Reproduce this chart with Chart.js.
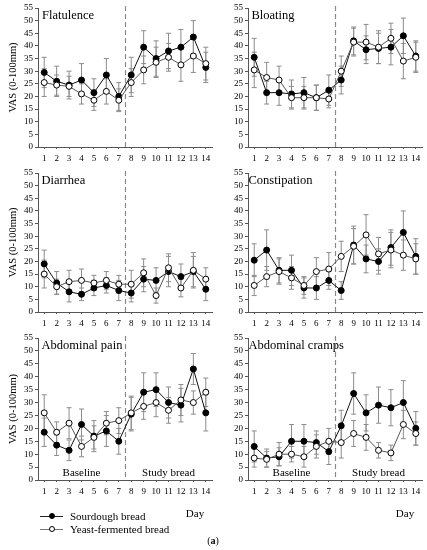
<!DOCTYPE html>
<html><head><meta charset="utf-8">
<script src="https://cdn.jsdelivr.net/npm/chart.js@4/dist/chart.umd.min.js"></script>
<style>
html,body{margin:0;padding:0;background:#fff;}
body{width:427px;height:550px;position:relative;overflow:hidden;font-family:'Liberation Serif','Times New Roman',serif;color:#000;}
.panel{position:absolute;}
.panel canvas{display:block;}
.ann{position:absolute;white-space:nowrap;line-height:1;}
.leg{position:absolute;left:40px;font-size:11px;line-height:1;white-space:nowrap;}
.leg .ln{position:absolute;left:0;top:50%;width:23px;height:0;border-top:1px solid #222;}
.leg .mk{position:absolute;left:8.5px;top:50%;width:4px;height:4px;border-radius:50%;border:1px solid #000;transform:translateY(-50%);}
.leg .tx{position:absolute;left:30px;top:0;transform:translateY(-50%);}
</style></head><body>
<script>
// ---------- data ----------
const days = ['1','2','3','4','5','6','7','8','9','10','11','12','13','14'];
const yTicksMax = 55, yTicksStep = 5;
const studyStartIndex = 7; // day 8 starts study-bread phase
const seriesNames = ['Sourdough bread', 'Yeast-fermented bread'];
const phaseNames = ['Baseline', 'Study bread'];

const flatulenceSour    = [29.5, 26, 24.5, 26.5, 21.5, 28.5, 20, 28.5, 39.5, 35, 38, 39.5, 43.5, 31.5];
const flatulenceSourErr = [6, 6, 5.5, 6.5, 5.5, 6.5, 5.5, 7, 6.5, 7, 7, 7, 6.5, 6];
const flatulenceYeast    = [25.5, 24.5, 24, 21, 18.5, 22, 18.5, 25.5, 30.5, 33.5, 35.5, 32.5, 36, 33];
const flatulenceYeastErr = [5.5, 4, 4, 4, 4, 5, 4.5, 5.5, 5.5, 6, 5.5, 6.5, 6.5, 6.5];

const bloatingSour    = [35.5, 21.5, 21.5, 21, 21.5, 19.5, 22.5, 26.5, 42, 38.5, 39, 39.5, 44, 36];
const bloatingSourErr = [7.5, 4.5, 5, 5.5, 6, 5, 6, 5.5, 5.5, 5.5, 6, 7, 7, 6];
const bloatingYeast    = [30.5, 27.5, 26.5, 19.5, 19.5, 19.5, 19, 30, 41.5, 41.5, 39.5, 43, 34, 35.5];
const bloatingYeastErr = [7, 6, 5.5, 4.5, 4.5, 5, 3.5, 6, 5.5, 7, 6.5, 6, 7, 6];

const diarrheaSour    = [19, 11.5, 8, 7, 9.5, 10.5, 8.5, 7.5, 13, 12.5, 16, 14, 16, 9];
const diarrheaSourErr = [5.5, 4.5, 4, 2.5, 3, 3, 4, 3.5, 5, 5, 6, 5, 6, 4.5];
const diarrheaYeast    = [15, 10, 12, 12.5, 11.5, 12.5, 11, 11, 15.5, 6.5, 17.5, 9.5, 16.5, 13];
const diarrheaYeastErr = [5.5, 3, 4.5, 4.5, 3, 3.5, 3.5, 5.5, 5.5, 3, 5.5, 3.5, 7, 4.5];

const constipationSour    = [20.5, 24.5, 16.5, 16.5, 9.5, 9.5, 12.5, 8.5, 26.5, 21, 20, 25.5, 31.5, 22];
const constipationSourErr = [6.5, 8, 5, 6, 4, 4.5, 3.5, 3.5, 7.5, 5.5, 5, 7, 8.5, 7];
const constipationYeast    = [10.5, 14, 16, 13.5, 10.5, 16, 17, 22, 26, 30.5, 23, 24.5, 22.5, 21];
const constipationYeastErr = [4, 4, 5, 4.5, 3.5, 5.5, 6.5, 6, 7, 8, 6.5, 7, 6, 6];

const painSour    = [18.5, 13.5, 11.5, 21.5, 17, 19, 15, 25.5, 34, 35, 30, 29, 43, 26];
const painSourErr = [5.5, 4, 4, 6, 6, 6, 5, 6.5, 7.5, 6.5, 6, 6.5, 6, 7];
const painYeast    = [26, 18.5, 22, 13, 16.5, 22, 23, 26, 28.5, 30, 27, 31, 30, 34];
const painYeastErr = [7, 4, 6, 4, 4.5, 4.5, 5, 6.5, 5, 5.5, 5, 6, 4.5, 5.5];

const crampsSour    = [13, 8.5, 9, 15, 15, 14.5, 11, 21, 33.5, 26, 29, 28, 30, 20];
const crampsSourErr = [6, 3.5, 3.5, 6.5, 6.5, 4.5, 5, 6, 8, 7, 7, 7, 8.5, 6.5];
const crampsYeast    = [8.5, 8, 10, 10, 9, 13, 15, 14.5, 18, 16.5, 11.5, 10.5, 21.5, 18];
const crampsYeastErr = [3.5, 3, 4.5, 3, 4, 4.5, 5, 6, 5, 5, 3, 3, 5.5, 4.5];

// ---------- layout ----------
const panels = [
  {title:'Flatulence', sour:flatulenceSour, sourErr:flatulenceSourErr, yeast:flatulenceYeast, yeastErr:flatulenceYeastErr, col:0, row:0, tdx:4},
  {title:'Bloating', sour:bloatingSour, sourErr:bloatingSourErr, yeast:bloatingYeast, yeastErr:bloatingYeastErr, col:1, row:0, tdx:3.5},
  {title:'Diarrhea', sour:diarrheaSour, sourErr:diarrheaSourErr, yeast:diarrheaYeast, yeastErr:diarrheaYeastErr, col:0, row:1, tdx:3.5},
  {title:'Constipation', sour:constipationSour, sourErr:constipationSourErr, yeast:constipationYeast, yeastErr:constipationYeastErr, col:1, row:1, tdx:0.5},
  {title:'Abdominal pain', sour:painSour, sourErr:painSourErr, yeast:painYeast, yeastErr:painYeastErr, col:0, row:2, tdx:3.5, phases:true},
  {title:'Abdominal cramps', sour:crampsSour, sourErr:crampsSourErr, yeast:crampsYeast, yeastErr:crampsYeastErr, col:1, row:2, tdx:0.5, phases:true}
];
const cols = [{left:0, width:217, yW:38}, {left:213, width:214, yW:35}];
const rows = [{top:8, bottom:147}, {top:173, bottom:312}, {top:338, bottom:480}];
const PADTOP = 8, XH = 20;

Chart.defaults.font.family = "'Liberation Serif','Times New Roman',serif";
Chart.defaults.color = '#000';

const decorPlugin = {
  id: 'decor',
  beforeDatasetsDraw(chart) {
    const {ctx, chartArea} = chart;
    const xs = chart.scales.x, ys = chart.scales.y;
    ctx.save();
    // dashed divider
    const dx = xs.getPixelForValue(studyStartIndex - 0.5);
    ctx.strokeStyle = '#8a8a8a';
    ctx.lineWidth = 1.2;
    ctx.setLineDash([5, 3]);
    ctx.beginPath();
    ctx.moveTo(Math.round(dx) + 0.5, chartArea.top - 2);
    ctx.lineTo(Math.round(dx) + 0.5, chartArea.bottom);
    ctx.stroke();
    ctx.setLineDash([]);
    // error bars
    ctx.strokeStyle = '#8c8c8c';
    ctx.lineWidth = 1;
    chart.data.datasets.forEach((ds, i) => {
      const meta = chart.getDatasetMeta(i);
      meta.data.forEach((pt, j) => {
        const v = ds.data[j], e = ds.errors[j];
        const yt = ys.getPixelForValue(v + e), yb = ys.getPixelForValue(v - e);
        const x = pt.x;
        ctx.beginPath();
        ctx.moveTo(x, yt); ctx.lineTo(x, yb);
        ctx.moveTo(x - 2.5, yt); ctx.lineTo(x + 2.5, yt);
        ctx.moveTo(x - 2.5, yb); ctx.lineTo(x + 2.5, yb);
        ctx.stroke();
      });
    });
    ctx.restore();
  }
};

function addAnn(parent, text, x, y, size, align) {
  const d = document.createElement('div');
  d.className = 'ann';
  d.textContent = text;
  d.style.fontSize = size + 'px';
  d.style.left = x + 'px';
  d.style.top = y + 'px';
  const tx = align === 'center' ? '-50%' : '0';
  d.style.transform = 'translate(' + tx + ',-50%)';
  parent.appendChild(d);
  return d;
}

panels.forEach((p) => {
  const c = cols[p.col], r = rows[p.row];
  const box = document.createElement('div');
  box.className = 'panel';
  const h = (r.bottom - r.top) + PADTOP + XH;
  box.style.left = c.left + 'px';
  box.style.top = (r.top - PADTOP) + 'px';
  box.style.width = c.width + 'px';
  box.style.height = h + 'px';
  const cv = document.createElement('canvas');
  box.appendChild(cv);
  document.body.appendChild(box);

  const chart = new Chart(cv, {
    type: 'line',
    data: {
      labels: days,
      datasets: [
        {label: seriesNames[1], data: p.yeast, errors: p.yeastErr, borderColor: '#555', borderWidth: 1,
         pointRadius: 3, pointBackgroundColor: '#fff', pointBorderColor: '#000', pointBorderWidth: 1, tension: 0},
        {label: seriesNames[0], data: p.sour, errors: p.sourErr, borderColor: '#111', borderWidth: 1,
         pointRadius: 3, pointBackgroundColor: '#000', pointBorderColor: '#000', pointBorderWidth: 1, tension: 0}
      ]
    },
    options: {
      responsive: true,
      maintainAspectRatio: false,
      animation: false,
      events: [],
      layout: {padding: {top: PADTOP, left: 0, right: 0, bottom: 0}},
      plugins: {legend: {display: false}, tooltip: {enabled: false}},
      scales: {
        x: {
          type: 'category', offset: true,
          grid: {display: true, drawOnChartArea: false, drawTicks: true, tickLength: 2, color: '#555', offset: false},
          border: {display: true, color: '#555', width: 1},
          ticks: {font: {size: 9}, padding: 4, maxRotation: 0, autoSkip: false, color: '#000'},
          afterFit: (s) => { s.height = XH; }
        },
        y: {
          min: 0, max: yTicksMax,
          grid: {display: true, drawOnChartArea: false, drawTicks: true, tickLength: 3, color: '#555'},
          border: {display: true, color: '#555', width: 1},
          ticks: {stepSize: yTicksStep, font: {size: 9}, padding: 2, color: '#000', autoSkip: false},
          title: {display: p.col === 0, text: 'VAS (0-100mm)', font: {size: 10.5}, padding: {top: 6.5, bottom: 0}, color: '#000'},
          afterFit: (s) => { s.width = c.yW; }
        }
      }
    },
    plugins: [decorPlugin]
  });

  const a = chart.chartArea;
  addAnn(box, p.title, a.left + p.tdx, a.top + 6.5, 12.5, 'left');
  if (p.phases) {
    const dx = chart.scales.x.getPixelForValue(studyStartIndex - 0.5);
    addAnn(box, phaseNames[0], (a.left + dx) / 2, a.bottom - 8, 11, 'center');
    addAnn(box, phaseNames[1], (dx + a.right) / 2, a.bottom - 8, 11, 'center');
    addAnn(box, 'Day', a.right - 17, a.bottom + 33, 11, 'center');
  }
});

// legend
[[seriesNames[0], '#000', '#222', 516], [seriesNames[1], '#fff', '#777', 528.5]].forEach(([name, fill, line, y]) => {
  const l = document.createElement('div');
  l.className = 'leg';
  l.style.top = y + 'px';
  l.innerHTML = '<span class="ln" style="border-top-color:' + line + '"></span><span class="mk" style="background:' + fill + '"></span><span class="tx"></span>';
  l.querySelector('.tx').textContent = name;
  document.body.appendChild(l);
});
const cap = document.createElement('div');
cap.className = 'ann';
cap.style.fontSize = '10px';
cap.style.left = '213px';
cap.style.top = '541px';
cap.style.transform = 'translate(-50%,-50%)';
cap.innerHTML = '(<b>a</b>)';
document.body.appendChild(cap);
</script>
</body></html>
